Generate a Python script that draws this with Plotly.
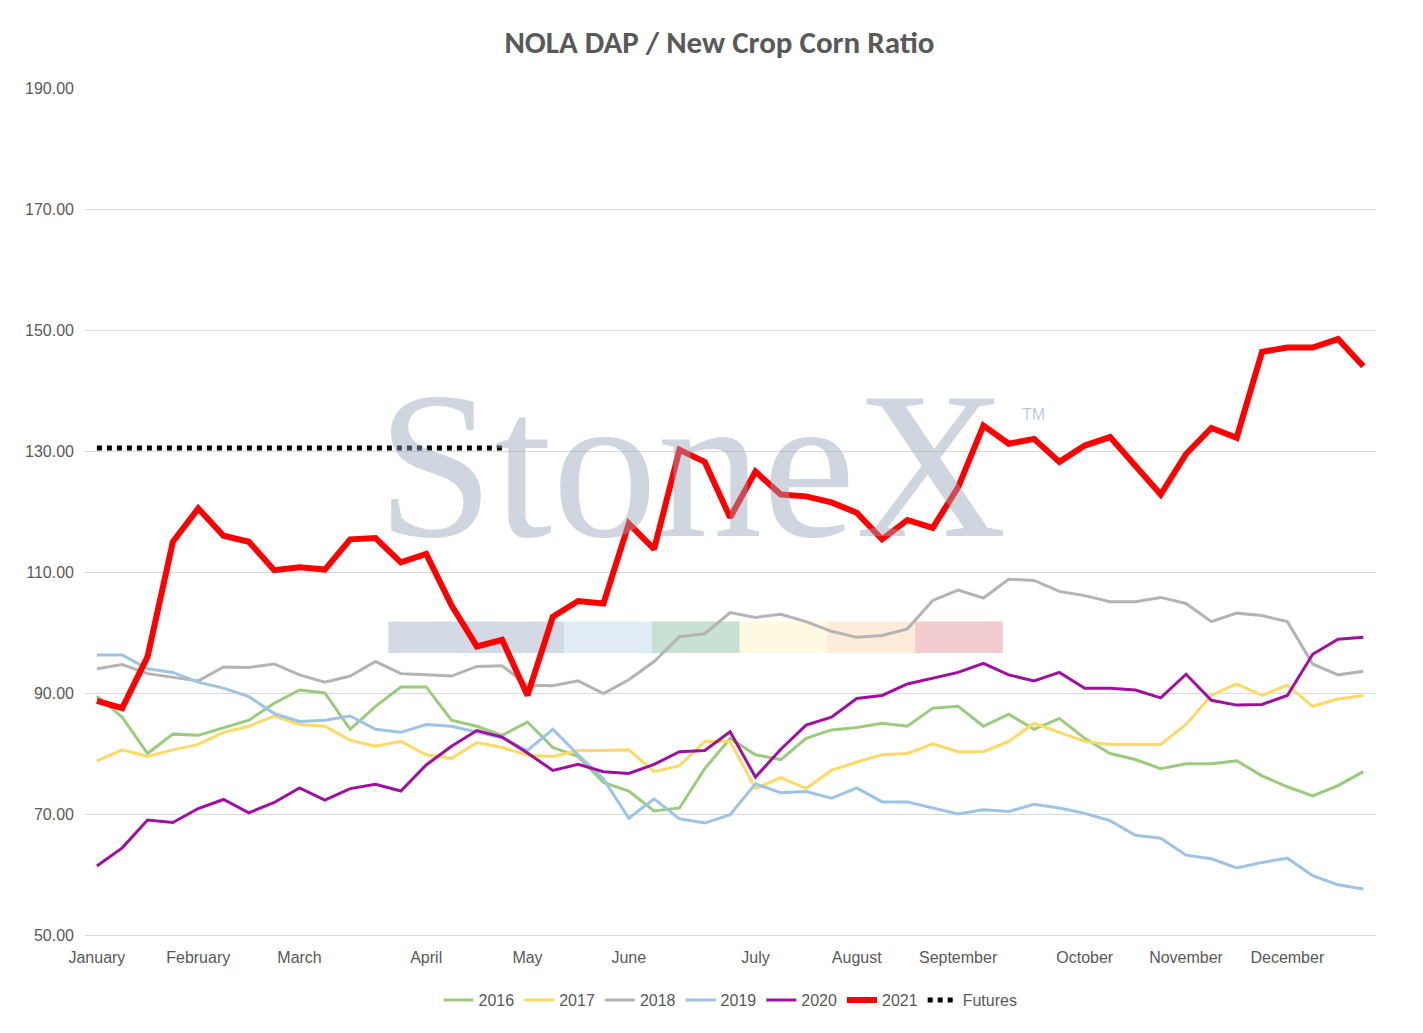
import plotly.graph_objects as go

x = list(range(51))
month_idx = [0, 4, 8, 13, 17, 21, 26, 30, 34, 39, 43, 47]
month_labels = ["January", "February", "March", "April", "May", "June", "July",
                "August", "September", "October", "November", "December"]
y_ticks = [50, 70, 90, 110, 130, 150, 170, 190]

s2016 = [89.5,86,80,83.2,83,84.2,85.5,88.3,90.5,90,84,87.8,91,91,85.5,84.5,83,85.2,81,79.5,75.2,73.8,70.5,71,77.5,82.5,79.8,79,82.5,83.9,84.3,85,84.5,87.5,87.8,84.5,86.5,84,85.8,82.5,80,79,77.5,78.3,78.3,78.8,76.3,74.5,73,74.7,77]
s2017 = [78.8,80.6,79.5,80.6,81.5,83.5,84.5,86.2,84.8,84.5,82.2,81.2,82,79.8,79.2,81.8,81,79.7,79.5,80.5,80.5,80.6,77,78,82,82,74.2,76,74.2,77.2,78.6,79.8,80,81.6,80.3,80.3,82,85,83.5,82,81.5,81.5,81.5,84.8,89.6,91.5,89.6,91.3,87.8,89,89.6]
s2018 = [94,94.7,93.2,92.6,92,94.3,94.2,94.8,93,91.8,92.8,95.2,93.2,93,92.8,94.4,94.5,91.3,91.2,92,89.9,92.2,95.2,99.3,99.8,103.3,102.5,103,101.8,100.2,99.2,99.5,100.6,105.3,107,105.7,108.8,108.6,106.8,106.1,105.1,105.1,105.8,104.8,101.8,103.2,102.8,101.8,94.8,93,93.6]
s2019 = [96.3,96.3,94,93.4,91.8,90.8,89.4,86.6,85.3,85.5,86.2,84,83.5,84.8,84.5,83.6,82.6,80.5,84,79.8,75.8,69.3,72.5,69.2,68.5,69.9,75,73.5,73.7,72.6,74.3,72,72,71,70,70.7,70.4,71.6,71,70.1,68.9,66.5,66,63.2,62.6,61.1,62,62.7,59.8,58.3,57.6]
s2020 = [61.4,64.4,69,68.6,70.9,72.4,70.2,71.9,74.3,72.3,74.2,74.9,73.8,78.1,81.2,83.8,82.7,80.1,77.2,78.2,77,76.7,78.2,80.3,80.5,83.6,76.1,80.7,84.7,86,89.1,89.6,91.5,92.4,93.4,94.9,93,92,93.4,90.8,90.8,90.5,89.2,93.1,88.8,88,88.1,89.6,96.4,98.9,99.2]
s2021 = [88.7,87.5,96,115,120.5,116,115,110.3,110.8,110.4,115.4,115.6,111.6,113,104.5,97.7,98.8,89.6,102.6,105.2,104.8,118,113.8,130.2,128.2,119,126.6,122.8,122.5,121.5,119.8,115.4,118.6,117.3,124,134.2,131.2,132,128.2,130.9,132.3,127.6,122.8,129.5,133.8,132.2,146.4,147.1,147.1,148.5,144]
futures_x = list(range(17))
futures = [130.5] * 17

fig = go.Figure()
series = [("2016", s2016, "#9BCB7D", 3), ("2017", s2017, "#FFD966", 3),
          ("2018", s2018, "#B4B4B4", 3), ("2019", s2019, "#9DC3E6", 3),
          ("2020", s2020, "#A0109E", 3), ("2021", s2021, "#FF0000", 6)]
for name, ys, c, w in series:
    fig.add_trace(go.Scatter(x=x, y=ys, name=name, mode="lines",
                             line=dict(color=c, width=w)))
fig.add_trace(go.Scatter(x=futures_x, y=futures, name="Futures", mode="lines",
                         line=dict(color="black", width=5, dash="dot")))

# watermark
fig.add_annotation(x=0.47, y=0.555, xref="paper", yref="paper", text="StoneX",
                   showarrow=False, font=dict(family="Liberation Serif", size=210, color="rgba(150,165,185,0.45)"))
fig.add_annotation(x=0.745, y=0.615, xref="paper", yref="paper", text="TM",
                   showarrow=False, font=dict(family="Liberation Sans", size=16, color="rgba(150,165,185,0.6)"))
wm_cols = ["rgba(130,150,180,0.35)", "rgba(170,200,230,0.35)", "rgba(100,170,130,0.35)",
           "rgba(250,240,170,0.35)", "rgba(250,200,150,0.35)", "rgba(220,110,120,0.35)"]
edges = [0.235, 0.371, 0.439, 0.507, 0.575, 0.643, 0.711]
for i, c in enumerate(wm_cols):
    fig.add_shape(type="rect", xref="paper", yref="paper",
                  x0=edges[i], x1=edges[i + 1],
                  y0=0.333, y1=0.37, fillcolor=c, line_width=0, layer="below")

fig.update_layout(
    width=1423, height=1033,
    paper_bgcolor="white", plot_bgcolor="white",
    margin=dict(l=77, r=55, t=80, b=106),
    title=dict(text="<b>NOLA DAP / New Crop Corn Ratio</b>", x=0.5, y=0.967, xanchor="center", yanchor="middle",
               font=dict(family="Carlito, Liberation Sans", size=31, color="#595959")),
    font=dict(family="Liberation Sans", size=16, color="#595959"),
    legend=dict(orientation="h", x=0.5, xanchor="center", y=-0.077, yanchor="middle",
                font=dict(size=16, color="#595959")),
    showlegend=True,
)
fig.update_xaxes(range=[-0.47, 50.5], tickvals=month_idx, ticktext=month_labels,
                 showgrid=False, showline=True, linecolor="#D9D9D9", ticks="", zeroline=False,
                 ticklabelstandoff=8)
fig.update_yaxes(range=[50, 190], tickvals=y_ticks, tickformat=".2f", showgrid=True,
                 gridcolor="#D9D9D9", zeroline=False, ticks="", ticklabelstandoff=10,
                 automargin=False)
fig.write_html("out.html")
